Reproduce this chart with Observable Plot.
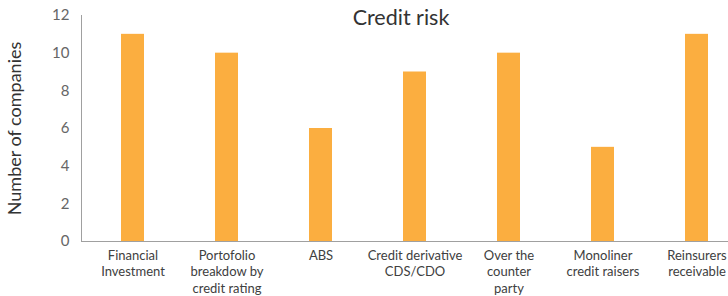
<!DOCTYPE html>
<html>
<head>
<meta charset="utf-8">
<script src="https://cdn.jsdelivr.net/npm/d3@7"></script>
<script src="https://cdn.jsdelivr.net/npm/@observablehq/plot@0.6"></script>
<style>
  html, body { margin: 0; padding: 0; background: #fff; overflow: hidden; }
  #chart { position: relative; width: 728px; height: 296px; }
</style>
</head>
<body>
<div id="chart"></div>
<script>
const categories = [
  "Financial\nInvestment",
  "Portofolio\nbreakdow by\ncredit rating",
  "ABS",
  "Credit derivative\nCDS/CDO",
  "Over the\ncounter\nparty",
  "Monoliner\ncredit raisers",
  "Reinsurers\nreceivable"
];
const companies = [11, 10, 6, 9, 10, 5, 11];
const yTicks = [0, 2, 4, 6, 8, 10, 12];
const title = "Credit risk";
const yLabel = "Number of companies";

const data = categories.map((c, i) => ({category: c, value: companies[i]}));

const chart = Plot.plot({
  width: 728,
  height: 296,
  marginTop: 15,
  marginBottom: 55,
  marginLeft: 81,
  marginRight: 0,
  style: {fontFamily: "Lato, sans-serif", background: "#fff"},
  x: {domain: categories, range: [84, 745], paddingInner: 0.757, paddingOuter: 0.3785, axis: null},
  y: {domain: [0, 12], axis: null},
  marks: [
    Plot.barY(data, {x: "category", y: "value", fill: "#fbae40"}),
    Plot.ruleY([0], {stroke: "#a0a0a0", strokeWidth: 1}),
    Plot.frame({anchor: "left", stroke: "#a0a0a0"}),
    Plot.axisY({ticks: yTicks, tickSize: 0, tickPadding: 12, fontSize: 15, fill: "#666",
      label: null}),
    Plot.text([yLabel], {frameAnchor: "left", dx: -66, rotate: -90, textAnchor: "middle", fontSize: 18, fill: "#333"}),
    Plot.axisX({tickSize: 0, tickPadding: 6, fontSize: 13, fill: "#404040", lineHeight: 1.3,
      textOverflow: null, label: null}),
    Plot.text([title], {frameAnchor: "top", dy: -6, dx: -4, fontSize: 21.5, fill: "#333", lineAnchor: "top"})
  ]
});
document.getElementById("chart").appendChild(chart);
</script>
</body>
</html>
